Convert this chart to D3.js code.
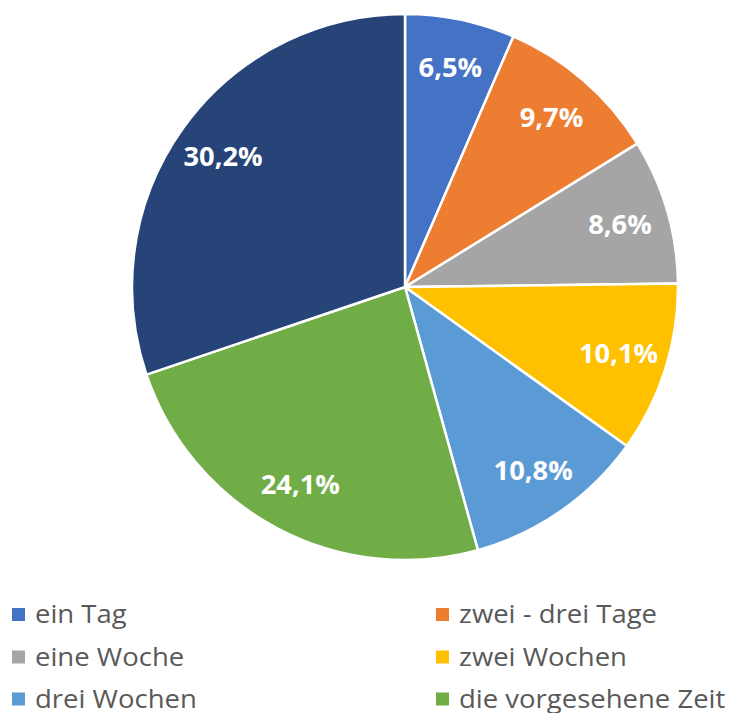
<!DOCTYPE html>
<html><head><meta charset="utf-8">
<script src="https://cdn.jsdelivr.net/npm/d3@7"></script>
<style>body{margin:0;background:#fff}svg{display:block}</style>
</head><body>
<script>
const categories = ["ein Tag","zwei - drei Tage","eine Woche","zwei Wochen","drei Wochen","die vorgesehene Zeit","andere"];
const values = [6.5, 9.7, 8.6, 10.1, 10.8, 24.1, 30.2];
const labels = ["6,5%","9,7%","8,6%","10,1%","10,8%","24,1%","30,2%"];
const colors = ["#4472C4","#ED7D31","#A5A5A5","#FFC000","#5B9BD5","#70AD47","#264478"];
const legendCount = 6;

const W = 734, H = 713;
const cx = 405, cy = 287, R = 273;
const svg = d3.select("body").append("svg").attr("width", W).attr("height", H);
const data = categories.map((c,i)=>({c, v: values[i], l: labels[i], col: colors[i]}));
const pie = d3.pie().value(d=>d.v).sort(null);
const arcs = pie(data);
const arc = d3.arc().innerRadius(0).outerRadius(R);
const labelArc = d3.arc().innerRadius(R*0.82).outerRadius(R*0.82);
const g = svg.append("g").attr("transform", `translate(${cx},${cy})`);
g.selectAll("path").data(arcs).join("path")
  .attr("d", arc).attr("fill", d=>d.data.col)
  .attr("stroke", "#fff").attr("stroke-width", 2.5).attr("stroke-linejoin","round");
g.selectAll("text").data(arcs).join("text")
  .attr("transform", d=>`translate(${labelArc.centroid(d)}) scale(1.05,1)`)
  .attr("text-anchor","middle").attr("dy","0.35em")
  .attr("fill","#fff").attr("font-family","'Open Sans', sans-serif").attr("font-weight","bold")
  .attr("font-size", 26).text(d=>d.data.l);

const leg = svg.append("g");
const items = data.slice(0, legendCount);
const colX = [12, 436], rowY = [614.5, 657, 699];
items.forEach((d,i)=>{
  const x = colX[i%2], y = rowY[Math.floor(i/2)];
  leg.append("rect").attr("x", x).attr("y", y-6.5).attr("width", 13).attr("height", 13).attr("fill", d.col);
  leg.append("text").attr("transform", `translate(${x+23},${y}) scale(1.1,1)`).attr("dy","0.35em")
    .attr("fill","#595959").attr("font-family","'Open Sans', sans-serif").attr("font-size", 25).text(d.c);
});
</script>
</body></html>
